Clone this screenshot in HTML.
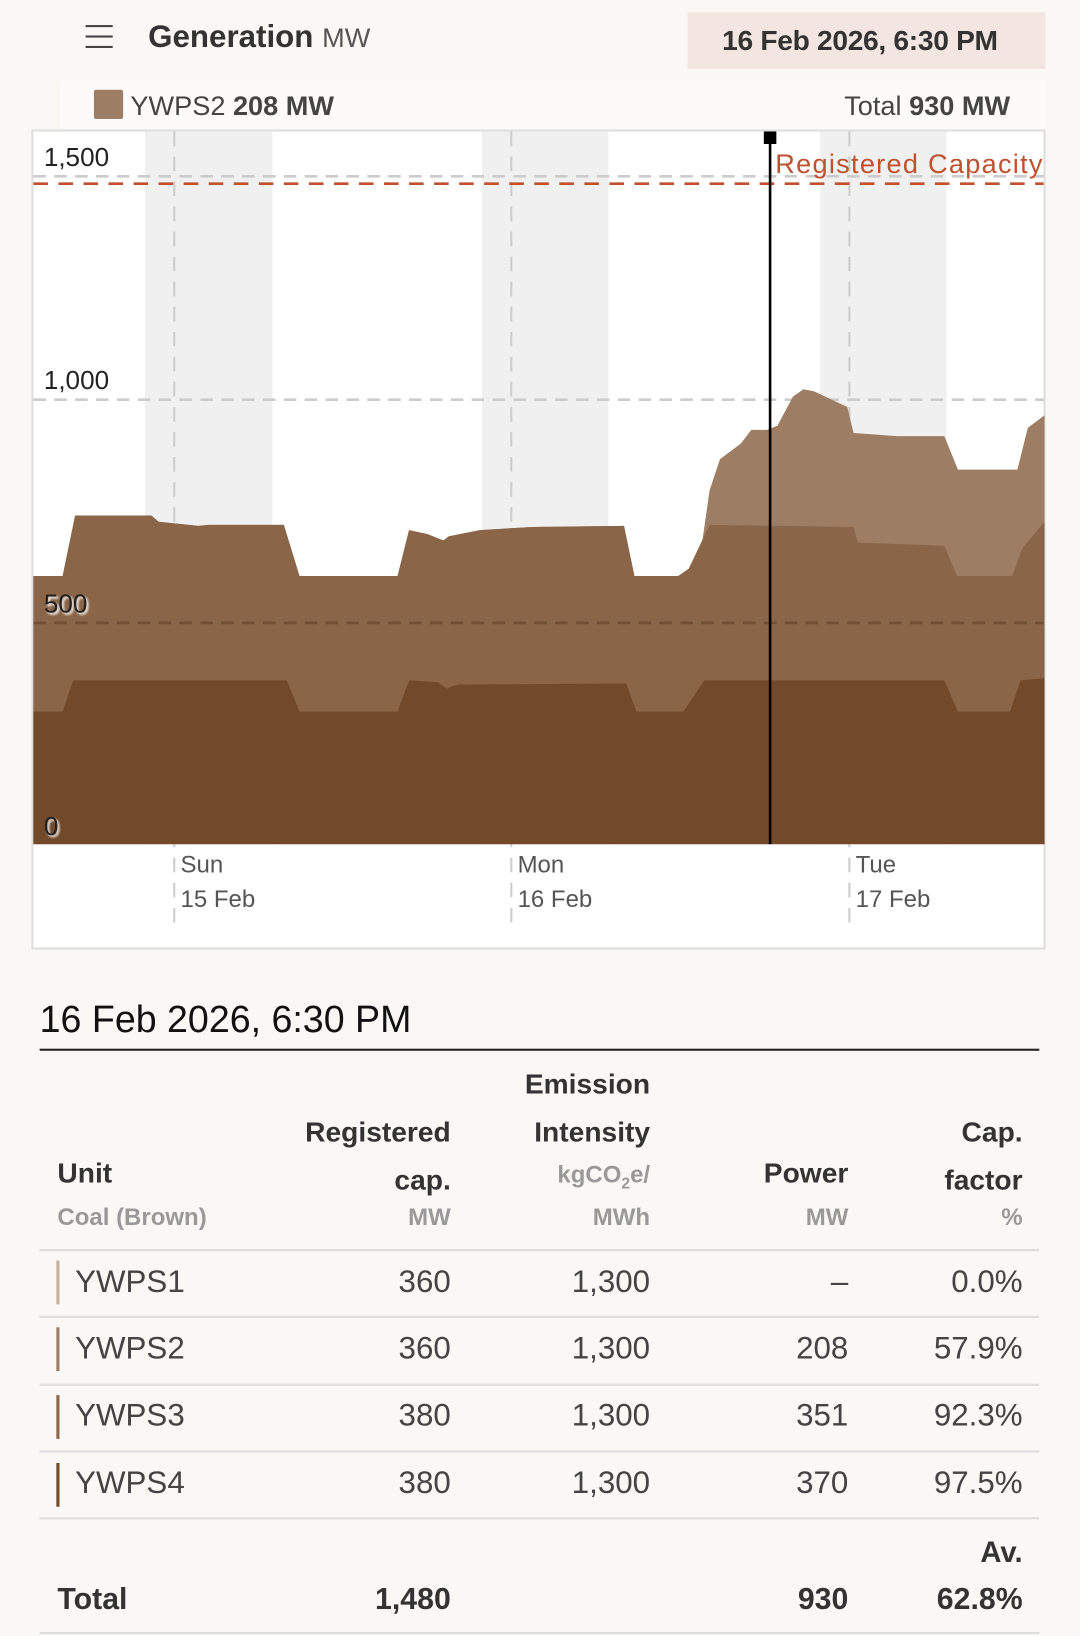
<!DOCTYPE html>
<html><head><meta charset="utf-8"><style>
html,body{margin:0;padding:0;background:#f9f8f5;overflow:hidden}
body{width:1080px;height:1636px}
#w{position:absolute;left:0;top:0;width:1035px;height:1568px;transform:scale(1.04348);transform-origin:0 0;font-family:"Liberation Sans",sans-serif;color:#333}
.a{position:absolute;white-space:nowrap}
.r{text-align:right}
.tl{font-size:30px;color:#444}
.line{position:absolute;left:38px;width:958px;height:1px;background:#ddd}
.bar{position:absolute;left:54px;width:3px;height:42px}
</style></head><body><div id="w">
<div class="a" style="left:82px;top:24px;width:26px;height:2px;background:#444;box-shadow:0 10px 0 #444,0 20px 0 #444"></div>
<div class="a" style="left:142px;top:19px;font-size:30px;font-weight:bold;color:#333">Generation <span style="font-weight:normal;font-size:26px;color:#555">MW</span></div>
<div class="a" style="left:659px;top:12px;width:343px;height:54px;background:#f3e5df"></div>
<div class="a" style="left:692px;top:24px;font-size:27px;color:#333;font-weight:bold;letter-spacing:-0.3px">16 Feb 2026, 6:30 PM</div>
<div class="a" style="left:58px;top:77px;width:944px;height:48px;background:#fcfbf9"></div>
<div class="a" style="left:90px;top:86px;width:28px;height:28px;background:#9d7d64;border-radius:2px"></div>
<div class="a" style="left:125px;top:86px;font-size:26px;color:#444">YWPS2 <b>208 MW</b></div>
<div class="a r" style="left:700px;width:268px;top:86px;font-size:26px;color:#444">Total <b>930 MW</b></div>
<svg class="a" style="left:30px;top:124px" width="973" height="786" viewBox="30 124 973 786">
<rect x="31" y="125" width="970" height="784" fill="#fff" stroke="#ddd" stroke-width="2"/>
<rect x="139" y="126" width="122" height="683" fill="#f0f0f0"/>
<rect x="462" y="126" width="121" height="683" fill="#f0f0f0"/>
<rect x="786" y="126" width="121" height="683" fill="#f0f0f0"/>
<g stroke="#ccc" stroke-width="2" stroke-dasharray="14,10">
<line x1="167" y1="126" x2="167" y2="890"/><line x1="490" y1="126" x2="490" y2="890"/><line x1="814" y1="126" x2="814" y2="890"/>
</g>
<g stroke="#ccc" stroke-width="2.5" stroke-dasharray="12,8">
<line x1="32" y1="169" x2="1000" y2="169"/><line x1="32" y1="383" x2="1000" y2="383"/>
</g>
<path fill="#9d7d64" d="M32,809 L32,552 L60,552 L72,494 L145,494 L152,500 L190,504 L200,503 L272,503 L287,552 L381,552 L392,508 L410,512 L425,518 L430,514 L440,512 L460,508 L510,505 L598,504 L608,552 L650,552 L660,545 L670,540 L680,470 L690,440 L710,425 L720,412 L735,412 L745,408 L760,380 L770,373 L780,375 L812,390 L818,415 L860,418 L905,418 L918,450 L975,450 L985,410 L1001,398 L1001,809 Z"/>
<path fill="#8a6547" d="M32,809 L32,552 L60,552 L72,494 L145,494 L152,500 L190,504 L200,503 L272,503 L287,552 L381,552 L392,508 L410,512 L425,518 L430,514 L440,512 L460,508 L510,505 L598,504 L608,552 L650,552 L660,545 L680,503 L818,505 L822,520 L880,522 L905,523 L917,552 L970,552 L980,525 L1001,500 L1001,809 Z"/>
<path fill="#734a29" d="M32,809 L32,682 L60,682 L70,652 L275,652 L287,682 L381,682 L392,652 L420,654 L428,660 L435,657 L440,656 L600,655 L610,682 L655,682 L675,652 L905,652 L918,682 L968,682 L978,652 L1001,650 L1001,809 Z"/>
<line x1="32" y1="597" x2="1000" y2="597" stroke="rgba(60,40,20,0.35)" stroke-width="2.5" stroke-dasharray="12,8"/>
<line x1="32" y1="176" x2="1000" y2="176" stroke="#c0502e" stroke-width="2.5" stroke-dasharray="14,10"/>
<line x1="738" y1="130" x2="738" y2="809" stroke="#000" stroke-width="2.5"/>
<rect x="732" y="126" width="12" height="12" fill="#000"/>
<text x="743" y="166" font-size="26" textLength="256" fill="#c0502e" font-family="Liberation Sans">Registered Capacity</text>
<g font-size="25" fill="#222" font-family="Liberation Sans" style="text-shadow:2px 2px 2px #fff">
<text x="42" y="159">1,500</text><text x="42" y="373">1,000</text><text x="42" y="587">500</text><text x="42" y="800">0</text>
</g>
<g font-size="23" fill="#555" font-family="Liberation Sans">
<text x="173" y="836">Sun</text><text x="173" y="869">15 Feb</text>
<text x="496" y="836">Mon</text><text x="496" y="869">16 Feb</text>
<text x="820" y="836">Tue</text><text x="820" y="869">17 Feb</text>
</g>
</svg>
<div class="a" style="left:38px;top:956px;font-size:36px;color:#111">16 Feb 2026, 6:30 PM</div>
<div class="a" style="left:38px;top:1005px;width:958px;height:2px;background:#222"></div>
<div class="a" style="left:55px;top:1109px;font-size:27px;font-weight:bold">Unit</div>
<div class="a" style="left:55px;top:1153px;font-size:23px;color:#999;font-weight:bold">Coal (Brown)</div>
<div class="a r" style="left:232px;width:200px;top:1062px;font-size:27px;font-weight:bold;line-height:46px">Registered<br>cap.</div>
<div class="a r" style="left:232px;width:200px;top:1153px;font-size:23px;color:#999;font-weight:bold">MW</div>
<div class="a r" style="left:423px;width:200px;top:1016px;font-size:27px;font-weight:bold;line-height:46px">Emission<br>Intensity</div>
<div class="a r" style="left:423px;width:200px;top:1112px;font-size:23px;color:#999;font-weight:bold">kgCO<span style="font-size:15px;position:relative;top:6px">2</span>e/</div>
<div class="a r" style="left:423px;width:200px;top:1153px;font-size:23px;color:#999;font-weight:bold">MWh</div>
<div class="a r" style="left:613px;width:200px;top:1109px;font-size:27px;font-weight:bold">Power</div>
<div class="a r" style="left:613px;width:200px;top:1153px;font-size:23px;color:#999;font-weight:bold">MW</div>
<div class="a r" style="left:780px;width:200px;top:1062px;font-size:27px;font-weight:bold;line-height:46px">Cap.<br>factor</div>
<div class="a r" style="left:780px;width:200px;top:1153px;font-size:23px;color:#999;font-weight:bold">%</div>
<div class="line" style="top:1197px;height:2px"></div>
<div class="bar" style="top:1208px;background:#c8b09a"></div>
<div class="a tl" style="left:72px;top:1212px">YWPS1</div><div class="a tl r" style="left:232px;width:200px;top:1212px">360</div><div class="a tl r" style="left:423px;width:200px;top:1212px">1,300</div><div class="a tl r" style="left:613px;width:200px;top:1212px">–</div><div class="a tl r" style="left:780px;width:200px;top:1212px">0.0%</div>
<div class="line" style="top:1261px;height:2px"></div>
<div class="bar" style="top:1272px;background:#9d7d64"></div>
<div class="a tl" style="left:72px;top:1276px">YWPS2</div><div class="a tl r" style="left:232px;width:200px;top:1276px">360</div><div class="a tl r" style="left:423px;width:200px;top:1276px">1,300</div><div class="a tl r" style="left:613px;width:200px;top:1276px">208</div><div class="a tl r" style="left:780px;width:200px;top:1276px">57.9%</div>
<div class="line" style="top:1326px;height:2px"></div>
<div class="bar" style="top:1337px;background:#8a6547"></div>
<div class="a tl" style="left:72px;top:1340px">YWPS3</div><div class="a tl r" style="left:232px;width:200px;top:1340px">380</div><div class="a tl r" style="left:423px;width:200px;top:1340px">1,300</div><div class="a tl r" style="left:613px;width:200px;top:1340px">351</div><div class="a tl r" style="left:780px;width:200px;top:1340px">92.3%</div>
<div class="line" style="top:1390px;height:2px"></div>
<div class="bar" style="top:1402px;background:#734a29"></div>
<div class="a tl" style="left:72px;top:1405px">YWPS4</div><div class="a tl r" style="left:232px;width:200px;top:1405px">380</div><div class="a tl r" style="left:423px;width:200px;top:1405px">1,300</div><div class="a tl r" style="left:613px;width:200px;top:1405px">370</div><div class="a tl r" style="left:780px;width:200px;top:1405px">97.5%</div>
<div class="line" style="top:1454px;height:2px"></div>
<div class="a r" style="left:780px;width:200px;top:1472px;font-size:28px;font-weight:bold">Av.</div>
<div class="a" style="left:55px;top:1517px;font-size:29px;font-weight:bold">Total</div>
<div class="a r" style="left:232px;width:200px;top:1517px;font-size:29px;font-weight:bold">1,480</div>
<div class="a r" style="left:613px;width:200px;top:1517px;font-size:29px;font-weight:bold">930</div>
<div class="a r" style="left:780px;width:200px;top:1517px;font-size:29px;font-weight:bold">62.8%</div>
<div class="line" style="top:1564px;height:2px"></div>
</div></body></html>
